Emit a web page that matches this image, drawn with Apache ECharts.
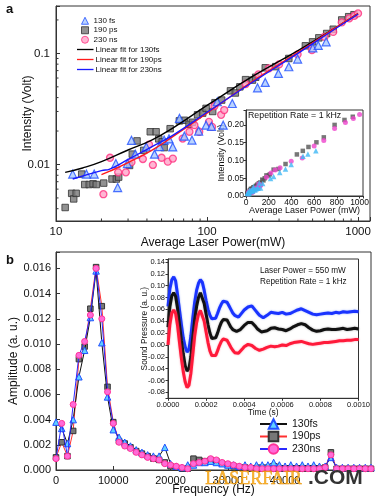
<!DOCTYPE html>
<html><head><meta charset="utf-8">
<script src="https://cdn.jsdelivr.net/npm/echarts@6/dist/echarts.min.js"></script>
<style>html,body{margin:0;padding:0;background:#fff}#c{width:377px;height:500px}</style>
</head><body><div id="c"></div>
<script>
// ---------- Panel a: intensity vs average laser power ----------
const fs130 = [[12.9,0.0082],[15.9,0.0082],[17.9,0.0082],[24.9,0.0102],[25.6,0.0062],[29.7,0.0102],[31.6,0.0165],[33.5,0.0124],[39.6,0.0144],[44.9,0.0124],[48.4,0.0145],[52,0.0166],[56,0.017],[59.3,0.0144],[65.7,0.026],[70.8,0.018],[79.5,0.0166],[88,0.020],[98.6,0.0226],[107,0.022],[117,0.0367],[128,0.0226],[147,0.0354],[216,0.049],[243,0.0548],[297,0.066],[348,0.0758],[398,0.0889],[502,0.112],[545,0.118],[615,0.127]];
const ps190 = [[11.5,0.0041],[12.7,0.0055],[13.1,0.0049],[13.6,0.0055],[14.8,0.0082],[15.5,0.0066],[16.6,0.0066],[17.6,0.0067],[18.5,0.0066],[20.7,0.0068],[23.5,0.0074],[25.1,0.0074],[26,0.0077],[30.7,0.0098],[32,0.0124],[34.4,0.0163],[38.1,0.0134],[42.1,0.0197],[46,0.0197],[47.9,0.017],[50.5,0.016],[52,0.0142],[57,0.021],[65.6,0.0247],[70.8,0.025],[76,0.023],[80,0.024],[86.6,0.028],[93.6,0.029],[98.6,0.032],[109,0.030],[113,0.036],[125,0.038],[143,0.046],[154,0.044],[165,0.050],[180,0.058],[200,0.0575],[210,0.061],[243,0.0742],[285,0.076],[348,0.09],[448,0.117],[500,0.127],[550,0.138],[620,0.151],[685,0.165],[780,0.2],[867,0.214],[940,0.223]];
const ns230 = [[20.6,0.0054],[22.8,0.0115],[25.8,0.0085],[29,0.0085],[31.6,0.0105],[37.6,0.0112],[41.3,0.0151],[43.8,0.0099],[50,0.0115],[55,0.0106],[59.4,0.0113],[69,0.0171],[76.5,0.0197],[82.5,0.0226],[88.8,0.0197],[103,0.0242],[108,0.0218],[112,0.0336],[124,0.028],[130,0.0309],[180,0.053],[219,0.0647],[257,0.0732],[300,0.0796],[398,0.098],[495,0.107],[600,0.141],[685,0.156],[780,0.19],[875,0.207],[945,0.218],[1000,0.229]];
const fitBlack = [[11.5,0.0085],[15,0.0093],[20,0.0106],[30,0.0135],[43,0.0166],[60,0.0215],[100,0.034],[200,0.062],[400,0.106],[700,0.168],[1000,0.228]];
const fitRed = [[20,0.0081],[22.7,0.0087],[30,0.0104],[43,0.0134],[60,0.018],[100,0.029],[200,0.056],[400,0.102],[700,0.168],[1000,0.228]];
const fitBlue = [[12.9,0.0074],[20,0.0088],[22.7,0.0091],[30,0.0111],[43,0.0144],[60,0.0185],[100,0.0295],[200,0.055],[400,0.1],[700,0.165],[1000,0.225]];
const aMinorY = [0.004,0.005,0.006,0.007,0.008,0.009,0.02,0.03,0.04,0.05,0.06,0.07,0.08,0.09,0.2];
const aMinorX = [20,30,40,50,60,70,80,90,200,300,400,500,600,700,800,900];

// ---------- Panel b: amplitude spectrum ----------
const freqHz = [0,1000,2000,3000,4000,5000,6000,7000,8000,9000,10000,11000,12000,13000,14000,15000,16000,17000,18000,19000,20000,21000,22000,23000,24000,25000,26000,27000,28000,29000,30000,31000,32000,33000,34000,35000,36000,37000,38000,39000,40000,41000,42000,43000,44000,45000,46000,47000,48000,49000,50000,51000,52000,53000,54000,55000];
const amp130fs = [0.0038,0.0033,0.0021,0.0040,0.0074,0.0095,0.0121,0.0158,0.0101,0.0058,0.0032,0.0026,0.0022,0.0019,0.0016,0.0014,0.0012,0.0011,0.0011,0.0018,0.0005,0.0003,0.0002,0.0004,0.0004,0.0006,0.0006,0.0007,0.0006,0.0005,0.0004,0.0004,0.0003,0.0004,0.0003,0.0004,0.0004,0.0004,0.0006,0.0004,0.0003,0.0004,0.0003,0.0004,0.0003,0.0004,0.0003,0.0003,0.0010,0.0002,0.0002,0.0002,0.0002,0.0002,0.0002,0.0002];
const amp190ps = [0.0010,0.0022,0.0011,0.0031,0.0088,0.0098,0.0128,0.0161,0.0130,0.0066,0.0038,0.0023,0.0021,0.0018,0.0015,0.0013,0.0011,0.0009,0.0008,0.0006,0.0003,0.0002,0.0001,0.0001,0.0009,0.0008,0.0007,0.0008,0.0007,0.0005,0.0004,0.0003,0.0002,0.0002,0.0001,0.0001,0.0001,0.0001,0.0001,0.0001,0.0001,0.0001,0.0001,0.0001,0.0001,0.0001,0.0001,0.0002,0.0014,0.0001,0.0001,0.0001,0.0001,0.0001,0.0001,0.0001];
const amp230ns = [0.0009,0.0037,0.0011,0.0052,0.0091,0.0102,0.0123,0.0160,0.0120,0.0062,0.0037,0.0022,0.0019,0.0017,0.0014,0.0012,0.0010,0.0009,0.0008,0.0005,0.0004,0.0003,0.0002,0.0001,0.0005,0.0006,0.0007,0.0009,0.0008,0.0006,0.0005,0.0004,0.0003,0.0002,0.0002,0.0001,0.0001,0.0001,0.0001,0.0001,0.0001,0.0001,0.0001,0.0001,0.0001,0.0001,0.0001,0.0002,0.0012,0.0001,0.0001,0.0001,0.0001,0.0001,0.0001,0.0001];

// ---------- Inset b: sound pressure vs time ----------
const timeUs = [0,10,20,30,40,50,60,70,80,90,100,110,120,130,140,150,160,170,180,190,200,210,220,230,240,250,260,270,280,290,300,310,320,330,340,350,360,370,380,390,400,410,420,430,440,450,460,470,480,490,500,520,540,560,580,600,620,640,660,680,700,720,740,760,780,800,820,840,860,880,900,920,940,960,980,1000];
const spBlue = [0.065,0.095,0.11,0.115,0.108,0.085,0.06,0.035,0.012,-0.003,-0.012,-0.008,0.015,0.045,0.072,0.092,0.104,0.11,0.106,0.092,0.075,0.06,0.05,0.044,0.042,0.045,0.053,0.062,0.069,0.074,0.075,0.072,0.066,0.06,0.054,0.05,0.048,0.047,0.05,0.055,0.059,0.062,0.064,0.066,0.066,0.063,0.058,0.054,0.05,0.047,0.046,0.05,0.055,0.054,0.053,0.055,0.052,0.053,0.056,0.059,0.061,0.058,0.055,0.052,0.051,0.052,0.053,0.054,0.053,0.055,0.054,0.056,0.055,0.056,0.057,0.056];
const spBlack = [0.03,0.065,0.083,0.088,0.082,0.062,0.035,0.008,-0.015,-0.035,-0.044,-0.04,-0.02,0.012,0.042,0.065,0.08,0.088,0.085,0.07,0.052,0.034,0.02,0.011,0.009,0.012,0.02,0.03,0.038,0.043,0.045,0.042,0.036,0.03,0.026,0.024,0.023,0.024,0.026,0.029,0.033,0.036,0.038,0.039,0.038,0.035,0.031,0.027,0.024,0.022,0.021,0.024,0.028,0.029,0.027,0.026,0.024,0.027,0.031,0.034,0.036,0.034,0.029,0.025,0.023,0.024,0.026,0.027,0.026,0.026,0.027,0.028,0.026,0.027,0.028,0.027];
const spRed = [0.0,0.035,0.054,0.059,0.053,0.033,0.005,-0.022,-0.045,-0.062,-0.072,-0.068,-0.048,-0.017,0.015,0.037,0.052,0.058,0.055,0.04,0.022,0.004,-0.01,-0.018,-0.021,-0.018,-0.01,-0.001,0.006,0.01,0.011,0.008,0.002,-0.004,-0.009,-0.013,-0.015,-0.014,-0.011,-0.007,-0.003,0.0,0.001,0.0,-0.001,-0.003,-0.006,-0.008,-0.009,-0.008,-0.007,-0.004,-0.002,-0.003,-0.002,0.0,-0.001,0.002,0.004,0.005,0.006,0.004,0.002,0.001,0.002,0.003,0.004,0.004,0.005,0.006,0.007,0.007,0.008,0.008,0.009,0.009];

const F = 'Liberation Sans, Arial, sans-serif';
const AX = '#333';
function isMult(v, step){ const r = v/step; return Math.abs(r - Math.round(r)) < 1e-6; }
function logFmt(v){ const l = Math.log10(v); return Math.abs(l - Math.round(l)) < 1e-6 ? String(+v.toPrecision(6)) : ''; }
function axisBase(extra){
  return Object.assign({
    axisLine:{show:true,onZero:false,lineStyle:{color:AX,width:1}},
    axisTick:{show:true,inside:true,length:4,lineStyle:{color:AX}},
    splitLine:{show:false},
    nameLocation:'middle',
    nameMoveOverlap:false,
  }, extra);
}
const pair = (xs, ys) => xs.map((x,i)=>[x, ys[i]]);
const toSec = timeUs.map(t => t*1e-6);
const nts = (size) => ({fontSize:size, color:'#111', fontFamily:F});

function minorTickItem(dir){
  return function(params, api){
    const p = api.coord([api.value(0), api.value(1)]);
    const shape = dir === 'y' ? {x1:p[0], y1:p[1], x2:p[0]+2.5, y2:p[1]} : {x1:p[0], y1:p[1], x2:p[0], y2:p[1]-2.5};
    return {type:'line', shape, style:{stroke:AX, lineWidth:1}};
  };
}
const lineIcon = 'path://M0,0 L20,0 L20,1.6 L0,1.6 Z';

const option = {
  animation:false,
  backgroundColor:'#fff',
  textStyle:{fontFamily:F},
  grid:[
    {left:56, right:7, top:6, bottom:279, show:true, borderColor:AX, borderWidth:1},
    {left:246, right:14, top:110, bottom:304, show:true, borderColor:AX, borderWidth:1, backgroundColor:'#fff'},
    {left:54, right:6, top:252, bottom:30, show:true, borderColor:AX, borderWidth:1},
    {left:168, right:18.5, top:259, bottom:101.7, show:true, borderColor:AX, borderWidth:1, backgroundColor:'#fff'}
  ],
  xAxis:[
    axisBase({gridIndex:0, type:'log', logBase:10, min:10, max:1200,
      axisLabel:{fontSize:11.5, margin:5, color:'#111', fontFamily:F, formatter:logFmt},
      name:'Average Laser Power(mW)', nameGap:16, nameTextStyle:nts(12)}),
    axisBase({gridIndex:1, type:'value', min:0, max:1030, interval:200,
      axisTick:{show:true,inside:false,length:2.5,lineStyle:{color:AX}},
      axisLabel:{fontSize:8.5, margin:2, color:'#111', fontFamily:F, formatter:v => (v<=1000 && isMult(v,200)) ? String(v) : ''},
      name:'Average Laser Power (mW)', nameGap:10, nameTextStyle:nts(9)}),
    axisBase({gridIndex:2, type:'value', min:0, max:55000, interval:10000,
      axisLabel:{fontSize:11, margin:5, color:'#111', fontFamily:F, formatter:v => (v<=40000 && isMult(v,10000)) ? String(v) : ''},
      name:'Frequency (Hz)', nameGap:14, nameTextStyle:nts(12)}),
    axisBase({gridIndex:3, type:'value', min:0, max:0.001, interval:0.0002,
      axisTick:{show:true,inside:false,length:2.5,lineStyle:{color:AX}},
      axisLabel:{fontSize:7.5, margin:3, color:'#111', fontFamily:F, formatter:v => v.toFixed(4)},
      name:'Time (s)', nameGap:10, nameTextStyle:nts(8.5)})
  ],
  yAxis:[
    axisBase({gridIndex:0, type:'log', logBase:10, min:0.0031, max:0.267,
      axisLabel:{fontSize:11.5, margin:6, color:'#111', fontFamily:F, formatter:logFmt},
      name:'Intensity (Volt)', nameGap:22, nameTextStyle:nts(12)}),
    axisBase({gridIndex:1, type:'value', min:0, max:0.242, interval:0.05,
      axisTick:{show:true,inside:false,length:2.5,lineStyle:{color:AX}},
      axisLabel:{fontSize:8.5, margin:2, color:'#111', fontFamily:F, formatter:v => isMult(v,0.05) ? v.toFixed(2) : ''},
      name:'Intensity (Volt)', nameGap:20, nameTextStyle:nts(9)}),
    axisBase({gridIndex:2, type:'value', min:0, max:0.0173, interval:0.002,
      axisLabel:{fontSize:11, margin:5, color:'#111', fontFamily:F, formatter:v => isMult(v,0.002) ? v.toFixed(3) : ''},
      name:'Amplitude (a. u.)', nameGap:36, nameTextStyle:nts(12)}),
    axisBase({gridIndex:3, type:'value', min:-0.09, max:0.145, minInterval:0.02, maxInterval:0.02, splitNumber:11,
      axisTick:{show:true,inside:false,length:2.5,lineStyle:{color:AX}},
      axisLabel:{fontSize:7.5, margin:3, color:'#111', fontFamily:F, formatter:v => isMult(v,0.02) ? v.toFixed(2) : ''},
      name:'Sound Pressure (a. u.)', nameGap:19, nameTextStyle:nts(8.3)})
  ],
  legend:[
    {orient:'vertical', left:81, top:16, padding:0, itemWidth:7, itemHeight:7, itemGap:0, itemStyle:{borderWidth:1},
     textStyle:{fontSize:8, color:'#111', fontFamily:F, lineHeight:9.5},
     data:['130 fs','190 ps','230 ns']},
    {orient:'vertical', left:77, top:44.5, padding:0, itemWidth:16.5, itemHeight:7, itemGap:0,
     textStyle:{fontSize:8, color:'#111', fontFamily:F, lineHeight:10, padding:[0,0,0,-3]},
     data:[{name:'Linear fit for 130fs', icon:lineIcon},{name:'Linear fit for 190ps', icon:lineIcon},{name:'Linear fit for 230ns', icon:lineIcon}]},
    {orient:'vertical', left:259, top:418, padding:0, itemWidth:27, itemHeight:12, itemGap:0.5,
     textStyle:{fontSize:10.5, color:'#111', fontFamily:F, lineHeight:12},
     data:['130fs','190ps','230ns']}
  ],
  series:[
    {name:'130 fs', type:'scatter', xAxisIndex:0, yAxisIndex:0, symbol:'triangle', symbolSize:8, data:fs130, z:4,
     itemStyle:{color:'#a9c8ff', borderColor:'#1f4fff', borderWidth:1.2}},
    {name:'190 ps', type:'scatter', xAxisIndex:0, yAxisIndex:0, symbol:'rect', symbolSize:6.5, data:ps190, z:3,
     itemStyle:{color:'#777', borderColor:'#333', borderWidth:1}},
    {name:'230 ns', type:'scatter', xAxisIndex:0, yAxisIndex:0, symbol:'circle', symbolSize:7, data:ns230, z:3,
     itemStyle:{color:'#ffa3c8', borderColor:'#ff2f7e', borderWidth:1.3}},
    {name:'Linear fit for 130fs', type:'line', xAxisIndex:0, yAxisIndex:0, symbol:'none', smooth:true, data:fitBlack, z:5,
     lineStyle:{color:'#000', width:1.4}, itemStyle:{color:'#000'}},
    {name:'Linear fit for 190ps', type:'line', xAxisIndex:0, yAxisIndex:0, symbol:'none', smooth:true, data:fitRed, z:5,
     lineStyle:{color:'#ff1a1a', width:1.4}, itemStyle:{color:'#ff1a1a'}},
    {name:'Linear fit for 230ns', type:'line', xAxisIndex:0, yAxisIndex:0, symbol:'none', smooth:true, data:fitBlue, z:5,
     lineStyle:{color:'#1a1aff', width:1.4}, itemStyle:{color:'#1a1aff'}},
    {name:'inset 190', type:'scatter', xAxisIndex:1, yAxisIndex:1, symbol:'rect', symbolSize:4.5, data:ps190, z:6,
     itemStyle:{color:'#555'}},
    {name:'inset 230', type:'scatter', xAxisIndex:1, yAxisIndex:1, symbol:'circle', symbolSize:5, data:ns230, z:6,
     itemStyle:{color:'#ee44cc'}},
    {name:'inset 130', type:'scatter', xAxisIndex:1, yAxisIndex:1, symbol:'triangle', symbolSize:5.5, data:fs130, z:6,
     itemStyle:{color:'#3fb8f5'}},
    {name:'130fs', type:'line', xAxisIndex:2, yAxisIndex:2, data:pair(freqHz, amp130fs), symbol:'triangle', symbolSize:6.5, z:4,
     lineStyle:{color:'#111', width:1}, itemStyle:{color:'#5fd0ff', borderColor:'#2050ff', borderWidth:1}},
    {name:'190ps', type:'line', xAxisIndex:2, yAxisIndex:2, data:pair(freqHz, amp190ps), symbol:'rect', symbolSize:5.5, z:3,
     lineStyle:{color:'#ff3030', width:1}, itemStyle:{color:'#777', borderColor:'#333', borderWidth:1}},
    {name:'230ns', type:'line', xAxisIndex:2, yAxisIndex:2, data:pair(freqHz, amp230ns), symbol:'circle', symbolSize:6, z:5,
     lineStyle:{color:'#2a2aff', width:1}, itemStyle:{color:'#ff6ad8', borderColor:'#ff3399', borderWidth:1}},
    {name:'sp blue', type:'line', xAxisIndex:3, yAxisIndex:3, data:pair(toSec, spBlue), symbol:'none', z:6,
     lineStyle:{color:'#1a33ff', width:3, shadowColor:'rgba(80,120,255,0.6)', shadowBlur:2}},
    {name:'sp black', type:'line', xAxisIndex:3, yAxisIndex:3, data:pair(toSec, spBlack), symbol:'none', z:6,
     lineStyle:{color:'#111', width:3, shadowColor:'rgba(90,90,90,0.6)', shadowBlur:2}},
    {name:'sp red', type:'line', xAxisIndex:3, yAxisIndex:3, data:pair(toSec, spRed), symbol:'none', z:6,
     lineStyle:{color:'#ff1a3a', width:3, shadowColor:'rgba(255,90,120,0.6)', shadowBlur:2}},
    {name:'minor y', type:'custom', xAxisIndex:0, yAxisIndex:0, clip:false, silent:true, z:7,
     data:aMinorY.map(v => [10, v]), renderItem:minorTickItem('y')},
    {name:'minor x', type:'custom', xAxisIndex:0, yAxisIndex:0, clip:false, silent:true, z:7,
     data:aMinorX.map(v => [v, 0.0031]), renderItem:minorTickItem('x')}
  ],
  graphic:[
    {type:'text', left:6, top:3, z:100, style:{text:'a', font:'bold 13px '+F, fill:'#111'}},
    {type:'text', left:6, top:254, z:100, style:{text:'b', font:'bold 13px '+F, fill:'#111'}},
    {type:'text', left:248, top:111, z:100, style:{text:'Repetition Rate = 1 kHz', font:'8.8px '+F, fill:'#111'}},
    {type:'text', left:260, top:267, z:100, style:{text:'Laser Power = 550 mW', font:'8.2px '+F, fill:'#111'}},
    {type:'text', left:260, top:277.5, z:100, style:{text:'Repetition Rate = 1 kHz', font:'8.2px '+F, fill:'#111'}},
    {type:'text', left:205, top:470, z:100, style:{text:'LASERFAIR', font:'18px Liberation Serif, Times New Roman, serif', fill:'rgba(247,166,20,0.85)', stroke:'#e08a00', lineWidth:0.4}},
    {type:'text', left:308, top:468, z:100, style:{text:'.COM', font:'bold 21px '+F, fill:'#333'}}
  ]
};
const chart = echarts.init(document.getElementById('c'), null, {renderer:'canvas'});
chart.setOption(option);
</script></body></html>
